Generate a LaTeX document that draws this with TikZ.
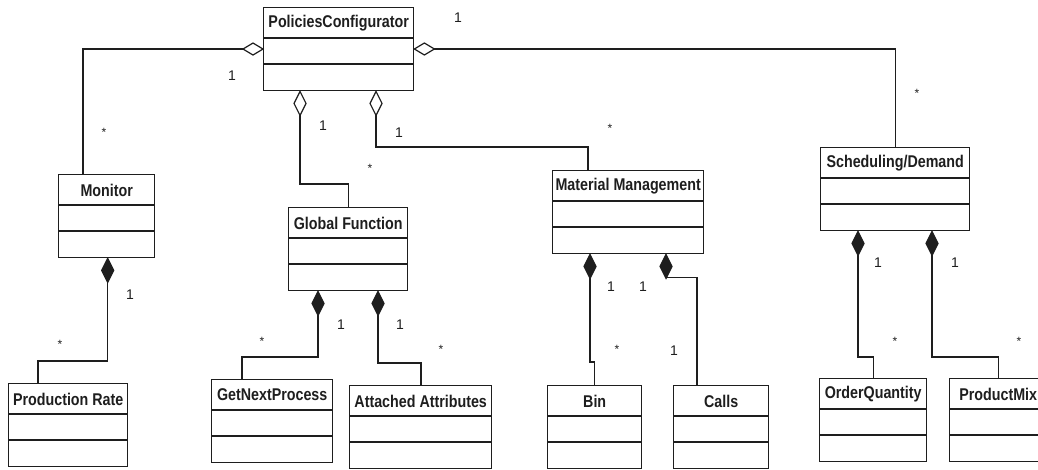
\documentclass[tikz,border=0pt]{standalone}
\usepackage{fontspec}
\setsansfont{Liberation Sans}
\newfontfamily\classfont[FakeStretch=0.84]{Liberation Sans}
\usetikzlibrary{calc}

\definecolor{ink}{HTML}{1E1E1E}

\tikzset{
  cls/.style={draw=ink, line width=1.4pt, inner sep=0pt, anchor=north west, minimum height=83pt},
  clsline/.style={draw=ink, line width=1.2pt},
  title/.style={font=\classfont\bfseries\fontsize{17}{17}\selectfont, text=ink, inner sep=0pt},
  mult/.style={font=\sffamily\fontsize{14}{14}\selectfont, text=ink, inner sep=0pt},
  star/.style={font=\sffamily\fontsize{12}{12}\selectfont, text=ink, inner sep=0pt},
  link/.style={draw=ink, line width=1.3pt},
  pics/vdiam/.style={code={\draw[draw=ink, line width=1.2pt, fill=#1] (0,0) -- (-6,12) -- (0,24) -- (6,12) -- cycle;}},
  pics/ldiam/.style={code={\draw[draw=ink, line width=1.2pt, fill=#1] (0,0) -- (-10,-6) -- (-20,0) -- (-10,6) -- cycle;}},
  pics/rdiam/.style={code={\draw[draw=ink, line width=1.2pt, fill=#1] (0,0) -- (10,-6) -- (20,0) -- (10,6) -- cycle;}},
}

% class box: name, left, top, width, title
\newcommand\umlclass[5]{%
  \node[cls, minimum width=#4pt] (#1) at (#2,#3) {};
  \node[title] (#1-t) at ($(#1.north)+(0,16)$) {#5};
  \draw[clsline] ($(#1.north west)+(0,31)$) -- ($(#1.north east)+(0,31)$);
  \draw[clsline] ($(#1.north west)+(0,57)$) -- ($(#1.north east)+(0,57)$);
}

\begin{document}
\begin{tikzpicture}[x=1pt, y=-1pt]
\useasboundingbox (0,0) rectangle (1038,469);
\clip (0,0) rectangle (1038,469);

% classes
\umlclass{pc}{263}{7}{150}{PoliciesConfigurator}
\umlclass{mon}{58}{174}{96}{Monitor}
\umlclass{gf}{288}{207}{119}{Global Function}
\umlclass{mm}{552}{170}{151}{Material Management}
\umlclass{sd}{820}{147}{149}{Scheduling/Demand}
\umlclass{pr}{8}{383}{119}{Production Rate}
\umlclass{gnp}{211}{379}{121}{GetNextProcess}
\umlclass{aa}{349}{385}{142}{Attached Attributes}
\umlclass{bin}{547}{385}{94}{Bin}
\umlclass{calls}{673}{385}{95}{Calls}
\umlclass{oq}{819}{378}{107}{OrderQuantity}
\umlclass{pm}{949}{378}{97}{ProductMix}

% aggregations from PoliciesConfigurator
\draw[link] ($(pc.north west)+(-20,42)$) -| ($(mon.north west)+(25,0)$);
\pic at ($(pc.north west)+(0,42)$) {ldiam=white};

\draw[link] ($(pc.south west)+(37,24)$) |- ($(gf.north)+(0,-23)$) -- (gf.north);
\pic at ($(pc.south west)+(37,0)$) {vdiam=white};

\draw[link] ($(pc.south west)+(113,24)$) |- ($(mm.north west)+(36,-23)$) -- ($(mm.north west)+(36,0)$);
\pic at ($(pc.south west)+(113,0)$) {vdiam=white};

\draw[link] ($(pc.north east)+(20,42)$) -| (sd.north);
\pic at ($(pc.north east)+(0,42)$) {rdiam=white};

% compositions
\draw[link] ($(mon.south)+(1,24)$) |- ($(pr.north west)+(30,-22)$) -- ($(pr.north west)+(30,0)$);
\pic at ($(mon.south)+(1,0)$) {vdiam=ink};

\draw[link] ($(gf.south west)+(30,24)$) |- ($(gnp.north west)+(31,-22)$) -- ($(gnp.north west)+(31,0)$);
\pic at ($(gf.south west)+(30,0)$) {vdiam=ink};
\draw[link] ($(gf.south west)+(90,24)$) |- ($(aa.north west)+(72,-22)$) -- ($(aa.north west)+(72,0)$);
\pic at ($(gf.south west)+(90,0)$) {vdiam=ink};

\draw[link] ($(mm.south west)+(38,24)$) |- ($(bin.north)+(0,-23)$) -- (bin.north);
\pic at ($(mm.south west)+(38,0)$) {vdiam=ink};
\draw[link] ($(mm.south west)+(114,23)$) -| ($(calls.north west)+(24,0)$);
\pic at ($(mm.south west)+(114,0)$) {vdiam=ink};

\draw[link] ($(sd.south west)+(38,24)$) |- ($(oq.north)+(0,-21)$) -- (oq.north);
\pic at ($(sd.south west)+(38,0)$) {vdiam=ink};
\draw[link] ($(sd.south west)+(112,24)$) |- ($(pm.north)+(0,-21)$) -- (pm.north);
\pic at ($(sd.south west)+(112,0)$) {vdiam=ink};

% multiplicities
\node[mult] (m1) at (458,18) {1};
\node[mult] (m2) at (232,76) {1};
\node[star] (m3) at (104,132) {*};
\node[mult] (m4) at (323,126) {1};
\node[star] (m5) at (370,168) {*};
\node[mult] (m6) at (399,133) {1};
\node[star] (m7) at (610,128) {*};
\node[star] (m8) at (917,93) {*};
\node[mult] (m9) at (130,295) {1};
\node[star] (m10) at (60,344) {*};
\node[mult] (m11) at (341,325) {1};
\node[mult] (m12) at (400,325) {1};
\node[star] (m13) at (262,341) {*};
\node[star] (m14) at (441,349) {*};
\node[mult] (m15) at (611,287) {1};
\node[mult] (m16) at (643,287) {1};
\node[star] (m17) at (617,349) {*};
\node[mult] (m18) at (674,351) {1};
\node[mult] (m19) at (878,263) {1};
\node[mult] (m20) at (955,263) {1};
\node[star] (m21) at (895,341) {*};
\node[star] (m22) at (1019,341) {*};
\end{tikzpicture}
\end{document}
